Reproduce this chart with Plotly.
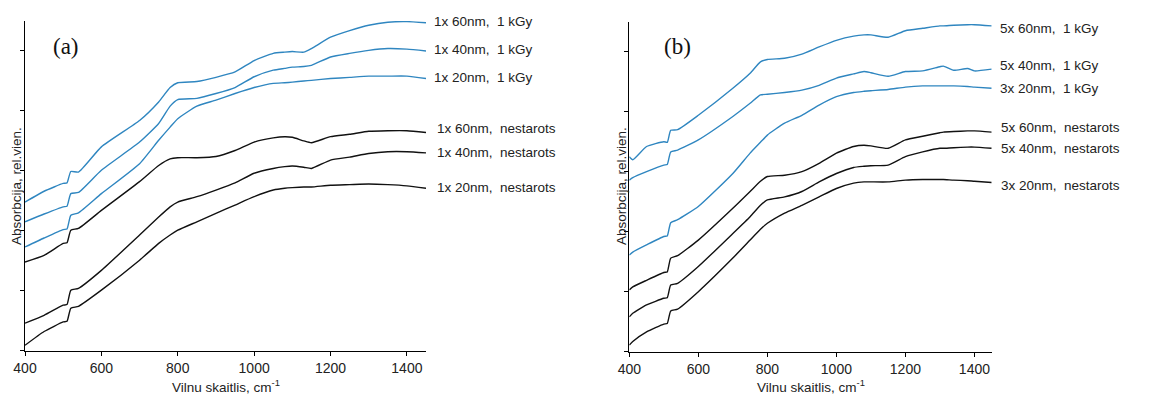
import plotly.graph_objects as go

# ---------------- data (relative absorbance, tick spacing = 1 unit) ----------------
wn_a = [400, 450, 500, 510, 520, 540, 600, 700, 750, 780, 800, 850, 900, 950, 1000,
        1050, 1080, 1100, 1130, 1150, 1200, 1250, 1300, 1350, 1400, 1450]

a_60_kgy = [2.48, 2.66, 2.79, 2.80, 2.99, 2.98, 3.40, 3.84, 4.15, 4.39, 4.47, 4.49, 4.56, 4.65, 4.84,
            4.96, 4.98, 4.99, 4.98, 5.04, 5.23, 5.34, 5.43, 5.48, 5.49, 5.47]
a_40_kgy = [2.15, 2.28, 2.40, 2.41, 2.62, 2.64, 3.01, 3.48, 3.79, 4.08, 4.19, 4.21, 4.29, 4.39, 4.57,
            4.68, 4.71, 4.73, 4.74, 4.76, 4.90, 4.96, 5.01, 5.04, 5.03, 5.00]
a_20_kgy = [1.73, 1.88, 2.02, 2.03, 2.26, 2.30, 2.62, 3.12, 3.51, 3.73, 3.87, 4.08, 4.18, 4.29, 4.39,
            4.46, 4.47, 4.48, 4.50, 4.51, 4.54, 4.56, 4.58, 4.58, 4.58, 4.54]
a_60_nes = [1.48, 1.59, 1.79, 1.80, 2.01, 2.04, 2.34, 2.82, 3.09, 3.20, 3.22, 3.22, 3.24, 3.34, 3.48,
            3.55, 3.57, 3.56, 3.50, 3.47, 3.57, 3.61, 3.66, 3.67, 3.67, 3.64]
a_40_nes = [0.46, 0.59, 0.76, 0.77, 1.01, 1.04, 1.34, 1.93, 2.23, 2.40, 2.48, 2.57, 2.68, 2.80, 2.96,
            3.04, 3.07, 3.08, 3.06, 3.04, 3.18, 3.23, 3.29, 3.32, 3.32, 3.30]
a_20_nes = [0.09, 0.32, 0.48, 0.49, 0.71, 0.74, 1.01, 1.51, 1.79, 1.93, 2.01, 2.15, 2.29, 2.43, 2.57,
            2.68, 2.71, 2.72, 2.73, 2.73, 2.76, 2.77, 2.78, 2.77, 2.75, 2.71]

wn_b = [400, 410, 450, 500, 510, 520, 540, 600, 700, 750, 780, 800, 850, 900, 950, 1000,
        1050, 1080, 1100, 1150, 1200, 1250, 1300, 1310, 1340, 1380, 1400, 1450]

b_60_kgy = [3.25, 3.20, 3.42, 3.50, 3.49, 3.69, 3.70, 3.94, 4.39, 4.64, 4.83, 4.87, 4.89, 4.96, 5.08, 5.19,
            5.26, 5.28, 5.28, 5.24, 5.35, 5.39, 5.43, 5.43, 5.44, 5.45, 5.45, 5.43]
b_40_kgy = [2.86, 2.90, 3.00, 3.11, 3.12, 3.33, 3.36, 3.53, 3.92, 4.14, 4.28, 4.29, 4.32, 4.36, 4.44, 4.56,
            4.63, 4.67, 4.65, 4.59, 4.67, 4.68, 4.75, 4.76, 4.69, 4.72, 4.68, 4.71]
b_20_kgy = [1.61, 1.66, 1.78, 1.92, 1.93, 2.15, 2.20, 2.42, 2.97, 3.31, 3.49, 3.61, 3.81, 3.94, 4.11, 4.25,
            4.32, 4.34, 4.35, 4.37, 4.41, 4.43, 4.43, 4.43, 4.43, 4.42, 4.41, 4.39]
b_60_nes = [1.03, 1.08, 1.19, 1.32, 1.33, 1.56, 1.60, 1.86, 2.39, 2.67, 2.84, 2.92, 2.94, 3.00, 3.14, 3.31,
            3.42, 3.44, 3.43, 3.39, 3.53, 3.59, 3.65, 3.66, 3.67, 3.68, 3.68, 3.66]
b_40_nes = [0.58, 0.64, 0.78, 0.89, 0.90, 1.11, 1.14, 1.42, 1.97, 2.25, 2.44, 2.53, 2.58, 2.67, 2.83, 2.97,
            3.07, 3.09, 3.10, 3.11, 3.25, 3.33, 3.39, 3.39, 3.40, 3.41, 3.41, 3.39]
b_20_nes = [0.11, 0.17, 0.33, 0.46, 0.47, 0.68, 0.71, 1.00, 1.56, 1.86, 2.04, 2.14, 2.31, 2.44, 2.58, 2.72,
            2.81, 2.83, 2.83, 2.83, 2.86, 2.87, 2.87, 2.87, 2.86, 2.85, 2.84, 2.82]

labels_a = ["1x 60nm,\u00a0 1 kGy", "1x 40nm,\u00a0 1 kGy", "1x 20nm,\u00a0 1 kGy",
            "1x 60nm,\u00a0 nestarots", "1x 40nm,\u00a0 nestarots", "1x 20nm,\u00a0 nestarots"]
labels_b = ["5x 60nm,\u00a0 1 kGy", "5x 40nm,\u00a0 1 kGy", "3x 20nm,\u00a0 1 kGy",
            "5x 60nm,\u00a0 nestarots", "5x 40nm,\u00a0 nestarots", "3x 20nm,\u00a0 nestarots"]

x_ticks = [400, 600, 800, 1000, 1200, 1400]
y_ticks = [0, 1, 2, 3, 4, 5]

# ---------------- figure ----------------
W, H = 1166, 394
BLUE = "#2f86c0"
BLACK = "#111111"
colors = [BLUE, BLUE, BLUE, BLACK, BLACK, BLACK]

fig = go.Figure()
series_a = [a_60_kgy, a_40_kgy, a_20_kgy, a_60_nes, a_40_nes, a_20_nes]
series_b = [b_60_kgy, b_40_kgy, b_20_kgy, b_60_nes, b_40_nes, b_20_nes]
for s, c, n in zip(series_a, colors, labels_a):
    fig.add_trace(go.Scatter(x=wn_a, y=s, mode="lines",
                             line=dict(color=c, width=1.4, shape="spline", smoothing=0.5),
                             name=n, xaxis="x", yaxis="y", showlegend=False, hoverinfo="skip"))
for s, c, n in zip(series_b, colors, labels_b):
    fig.add_trace(go.Scatter(x=wn_b, y=s, mode="lines",
                             line=dict(color=c, width=1.4, shape="spline", smoothing=0.5),
                             name=n, xaxis="x2", yaxis="y2", showlegend=False, hoverinfo="skip"))

FONT = "Liberation Sans, Arial, sans-serif"
LBL = 13.5
axis_common = dict(showline=True, linecolor="black", linewidth=1.3, ticks="outside",
                   ticklen=4, tickwidth=1.2, tickcolor="black", showgrid=False,
                   zeroline=False, fixedrange=True, automargin=False)

def px(x):
    return x / W

def py(y):
    return 1 - y / H

fig.update_layout(
    width=W, height=H, margin=dict(l=0, r=0, t=0, b=0, autoexpand=False),
    paper_bgcolor="white", plot_bgcolor="white",
    font=dict(family=FONT, size=12, color="#222"),
    xaxis=dict(domain=[px(25), px(426)], range=[400, 1450], tickvals=x_ticks,
               anchor="y", tickfont=dict(size=14, family=FONT, color="#222"), **axis_common),
    yaxis=dict(domain=[py(350.7), py(21)], range=[0, 5.5], tickvals=y_ticks,
               showticklabels=False, anchor="x", **axis_common),
    xaxis2=dict(domain=[px(629.3), px(991.7)], range=[400, 1450], tickvals=x_ticks,
                anchor="y2", tickfont=dict(size=14, family=FONT, color="#222"), **axis_common),
    yaxis2=dict(domain=[py(351.7), py(21.7)], range=[0, 5.5], tickvals=y_ticks,
                showticklabels=False, anchor="x2", **axis_common),
)

ann = []
ya = [21.7, 49.3, 77.3, 128.3, 152.7, 187.7]
xa = [432, 432, 432, 435, 435, 435]
for t, x, y in zip(labels_a, xa, ya):
    ann.append(dict(text=t, x=px(x), y=py(y), xref="paper", yref="paper", xanchor="left",
                    yanchor="middle", showarrow=False, font=dict(size=LBL, family=FONT, color="#222")))
yb = [28.3, 65.7, 88.3, 127.7, 148.3, 185.0]
xb = [998, 998, 998, 999, 999, 999]
for t, x, y in zip(labels_b, xb, yb):
    ann.append(dict(text=t, x=px(x), y=py(y), xref="paper", yref="paper", xanchor="left",
                    yanchor="middle", showarrow=False, font=dict(size=LBL, family=FONT, color="#222")))

# panel letters
for t, x, y in [("(a)", 66, 46), ("(b)", 677, 47)]:
    ann.append(dict(text=t, x=px(x), y=py(y), xref="paper", yref="paper", xanchor="center",
                    yanchor="middle", showarrow=False,
                    font=dict(size=23, family="Liberation Serif, Times New Roman, serif", color="#111")))

# axis titles
for x in [225.5, 810.5]:
    ann.append(dict(text="Vilnu skaitlis, cm<sup>-1</sup>", x=px(x), y=py(386), xref="paper",
                    yref="paper", xanchor="center", yanchor="middle", showarrow=False,
                    font=dict(size=LBL, family=FONT, color="#222")))
for x, yc in [(16, 186), (621, 186)]:
    ann.append(dict(text="Absorbcija, rel.vien.", x=px(x), y=py(yc), xref="paper", yref="paper",
                    xanchor="center", yanchor="middle", showarrow=False, textangle=-90,
                    font=dict(size=LBL, family=FONT, color="#222")))

fig.update_layout(annotations=ann)
fig.write_html("out.html", config={"displayModeBar": False},
               post_script="document.body.style.margin='0';document.body.style.overflow='hidden';")
